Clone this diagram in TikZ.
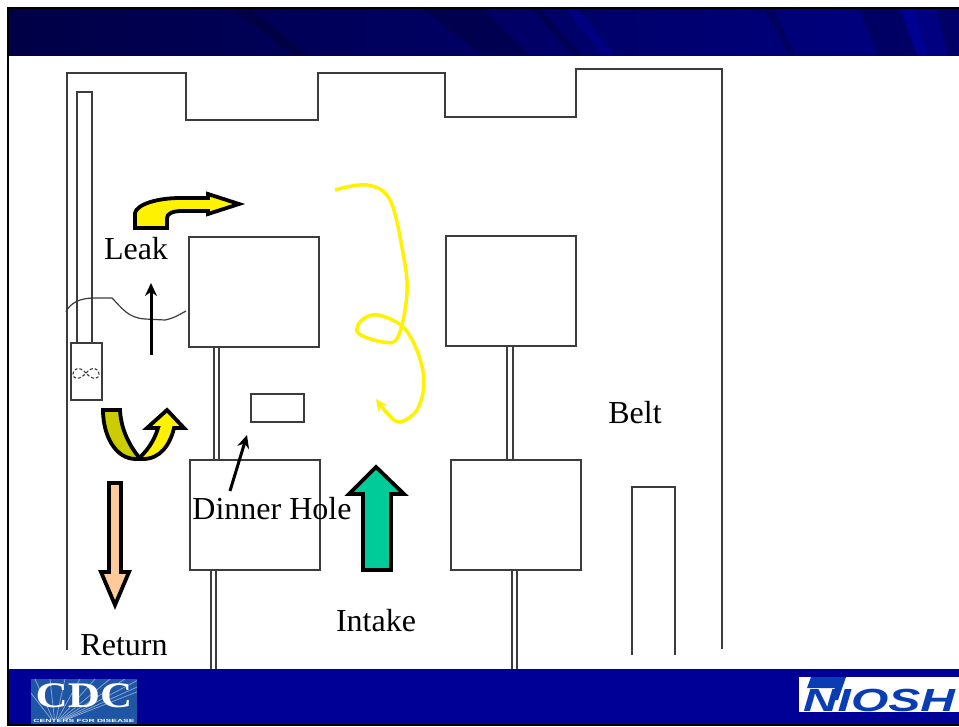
\documentclass[tikz,border=0pt]{standalone}
\usepackage{fontspec}
\setmainfont{Liberation Serif}
\newfontfamily\logosans{Liberation Sans}
\usetikzlibrary{arrows.meta}
\definecolor{footblue}{RGB}{0,0,150}
\definecolor{headdark}{RGB}{0,0,70}
\definecolor{headlight}{RGB}{0,0,130}
\definecolor{wallgray}{RGB}{60,60,60}
\definecolor{darkyellow}{RGB}{204,204,0}
\definecolor{tealair}{RGB}{0,204,153}
\definecolor{peachair}{RGB}{255,204,153}
\definecolor{cdcblue}{RGB}{30,85,165}
\definecolor{nioshblue}{RGB}{10,60,180}
\tikzset{
	wall/.style={draw=wallgray,line width=1.7pt},
	roombox/.style={wall,fill=white,anchor=north west,inner sep=0pt,minimum width=130pt,minimum height=110pt},
	airarrow/.style={draw=black,line width=3.8pt,miter limit=6},
	label/.style={font=\fontsize{32}{36}\selectfont,inner sep=0pt},
	smallarrow/.style={line width=3pt,-{Stealth[length=13pt,width=12pt]}},
	darkstreak/.style={fill=black,opacity=0.2},
	lightstreak/.style={fill=blue,opacity=0.15},
}
\begin{document}
\begin{tikzpicture}[x=1pt,y=-1pt]
	\useasboundingbox (0,0) rectangle (959,726);
	\fill[white] (0,0) rectangle (959,726);
	
	% header and footer
	\shade[left color=headdark,right color=headlight] (8,8) rectangle (959,55);
	\fill[darkstreak] (232,9) -- (250,9) -- (309,55) -- (293,55) -- cycle;
	\fill[darkstreak] (422,9) -- (483,9) -- (529,55) -- (483,55) -- cycle;
	\fill[darkstreak] (532,9) -- (541,9) -- (581,55) -- (572,55) -- cycle;
	\fill[lightstreak] (566,9) -- (578,9) -- (615,55) -- (602,55) -- cycle;
	\fill[darkstreak] (764,9) -- (774,9) -- (795,55) -- (789,55) -- cycle;
	\fill[darkstreak] (859,9) -- (899,9) -- (917,55) -- (878,55) -- cycle;
	\fill[lightstreak] (902,9) -- (914,9) -- (927,55) -- (917,55) -- cycle;
	\fill[darkstreak] (936,9) -- (959,9) -- (959,55) -- (948,55) -- cycle;
	\fill[footblue] (8,669) rectangle (959,724);
	\draw[black,line width=2.2pt] (959,8) -- (8,8) -- (8,725) -- (959,725);
	
	% outer walls
	\draw[wall] (67,650) -- (67,73) -- (186,73) -- (186,120) -- (318,120) -- (318,73) -- (445,73) -- (445,117) -- (576,117) -- (576,69) -- (722,69) -- (722,649);
	\draw[wall] (632,655) -- (632,487) -- (675,487) -- (675,655);
	
	% shaft and fan
	\draw[wall] (77,343) -- (77,92) -- (92,92) -- (92,343);
	\node[wall,anchor=north west,inner sep=0pt,minimum width=31pt,minimum height=57pt] (fanbox) at (70,342) {};
	\draw[wallgray,line width=1.1pt,densely dashed] (86,373) .. controls (80,366) and (73,368) .. (73,374) .. controls (73,380) and (80,380) .. (86,373) .. controls (92,366) and (99,368) .. (99,374) .. controls (99,380) and (92,380) .. (86,373);
	
	% rooms
	\node[roombox] (roomA) at (188,236) {};
	\node[roombox] (roomB) at (445,235) {};
	\node[roombox] (roomC) at (189,459) {};
	\node[roombox] (roomD) at (450,459) {};
	\node[wall,anchor=north west,inner sep=0pt,minimum width=53pt,minimum height=28pt] (holebox) at (250,393) {};
	
	% pillars
	\draw[wall] (214,347) -- (214,459) (219,347) -- (219,459);
	\draw[wall] (507,345) -- (507,459) (513,345) -- (513,459);
	\draw[wall] (211,569) -- (211,669) (216,569) -- (216,669);
	\draw[wall] (512,570) -- (512,669) (517,570) -- (517,669);
	
	% curtain
	\draw[wallgray,line width=1.2pt] (66,312) .. controls (70,303) and (80,298) .. (94,298) -- (112,298) .. controls (122,308) and (128,318) .. (145,319) -- (165,320) .. controls (175,318) and (180,314) .. (186,311);
	
	% air arrows
	\filldraw[airarrow,fill=yellow] (135,228) -- (135,213) .. controls (137,204) and (158,198) .. (180,198) -- (208,198) -- (208,194) -- (239,204) -- (208,214) -- (208,211) -- (182,211) .. controls (172,211) and (167,214) .. (167,218) -- (167,228) -- cycle;
	\filldraw[airarrow,fill=yellow] (138,459) .. controls (146,452) and (154,442) .. (158,428) -- (147,428) -- (167,410) -- (184,428) -- (174,428) .. controls (170,445) and (160,459) .. (143,459) -- cycle;
	\filldraw[airarrow,fill=darkyellow] (103,410) -- (120,410) .. controls (121,430) and (130,446) .. (138,456) .. controls (140,458) and (140,459) .. (136,459) .. controls (115,459) and (103,435) .. (103,410) -- cycle;
	\filldraw[airarrow,fill=peachair] (109,483) -- (121,483) -- (121,572) -- (129,572) -- (115,605) -- (101,572) -- (109,572) -- cycle;
	\filldraw[airarrow,fill=tealair] (376,467) -- (404,494) -- (391,494) -- (391,570) -- (363,570) -- (363,494) -- (349,494) -- cycle;
	
	\coordinate (leakstart) at (151,355);
	\coordinate (leakend) at (151,283);
	\coordinate (holestart) at (230,491);
	\coordinate (holeend) at (247,435);
	\draw[smallarrow] (leakstart) -- (leakend);
	\draw[smallarrow] (holestart) -- (holeend);
	
	% path of the intake air
	\draw[yellow,line width=3.5pt,-{Stealth[length=12pt,width=11pt]}] plot[smooth,tension=0.6] coordinates {(335,190) (367,185) (390,200) (403,253) (407,293) (398,337) (383,342) (358,333) (362,320) (378,315) (403,327) (418,353) (424,383) (417,410) (400,422) (388,414) (376,399)};
	
	% labels
	\node[label] (leak) at (136,249) {Leak};
	\node[label] (belt) at (635,413) {Belt};
	\node[label] (dinner) at (272,509) {Dinner Hole};
	\node[label] (intake) at (376,621) {Intake};
	\node[label] (return) at (124,645) {Return};
	
	% logos
	\fill[cdcblue] (31,679) rectangle (137,724);
	\begin{scope}
		\clip (31,679) rectangle (137,718);
		\foreach \xend in {20,35,50,65,80,95,110,125,140,155,170}
			\draw[white,opacity=0.45,line width=0.8pt] (55,724) -- (\xend,679);
	\end{scope}
	\node[text=white,font=\fontsize{36}{36}\bfseries\selectfont,inner sep=0pt,xscale=1.24] (cdc) at (84,696) {CDC};
	\node[text=white,font=\logosans\fontsize{4.5}{5}\bfseries\selectfont,inner sep=0pt,xscale=1.9] (cdcsub) at (84,721) {CENTERS FOR DISEASE};
	
	\fill[white] (799,677) rectangle (959,712);
	\node[text=nioshblue,font=\logosans\fontsize{32}{32}\bfseries\itshape\selectfont,inner sep=0pt,xscale=1.5] (niosh) at (879,700) {NIOSH};
	\fill[nioshblue] (811,677) -- (846,677) -- (838,700) -- (830,700) -- (835,688) -- (807,688) -- cycle;
\end{tikzpicture}
\end{document}
